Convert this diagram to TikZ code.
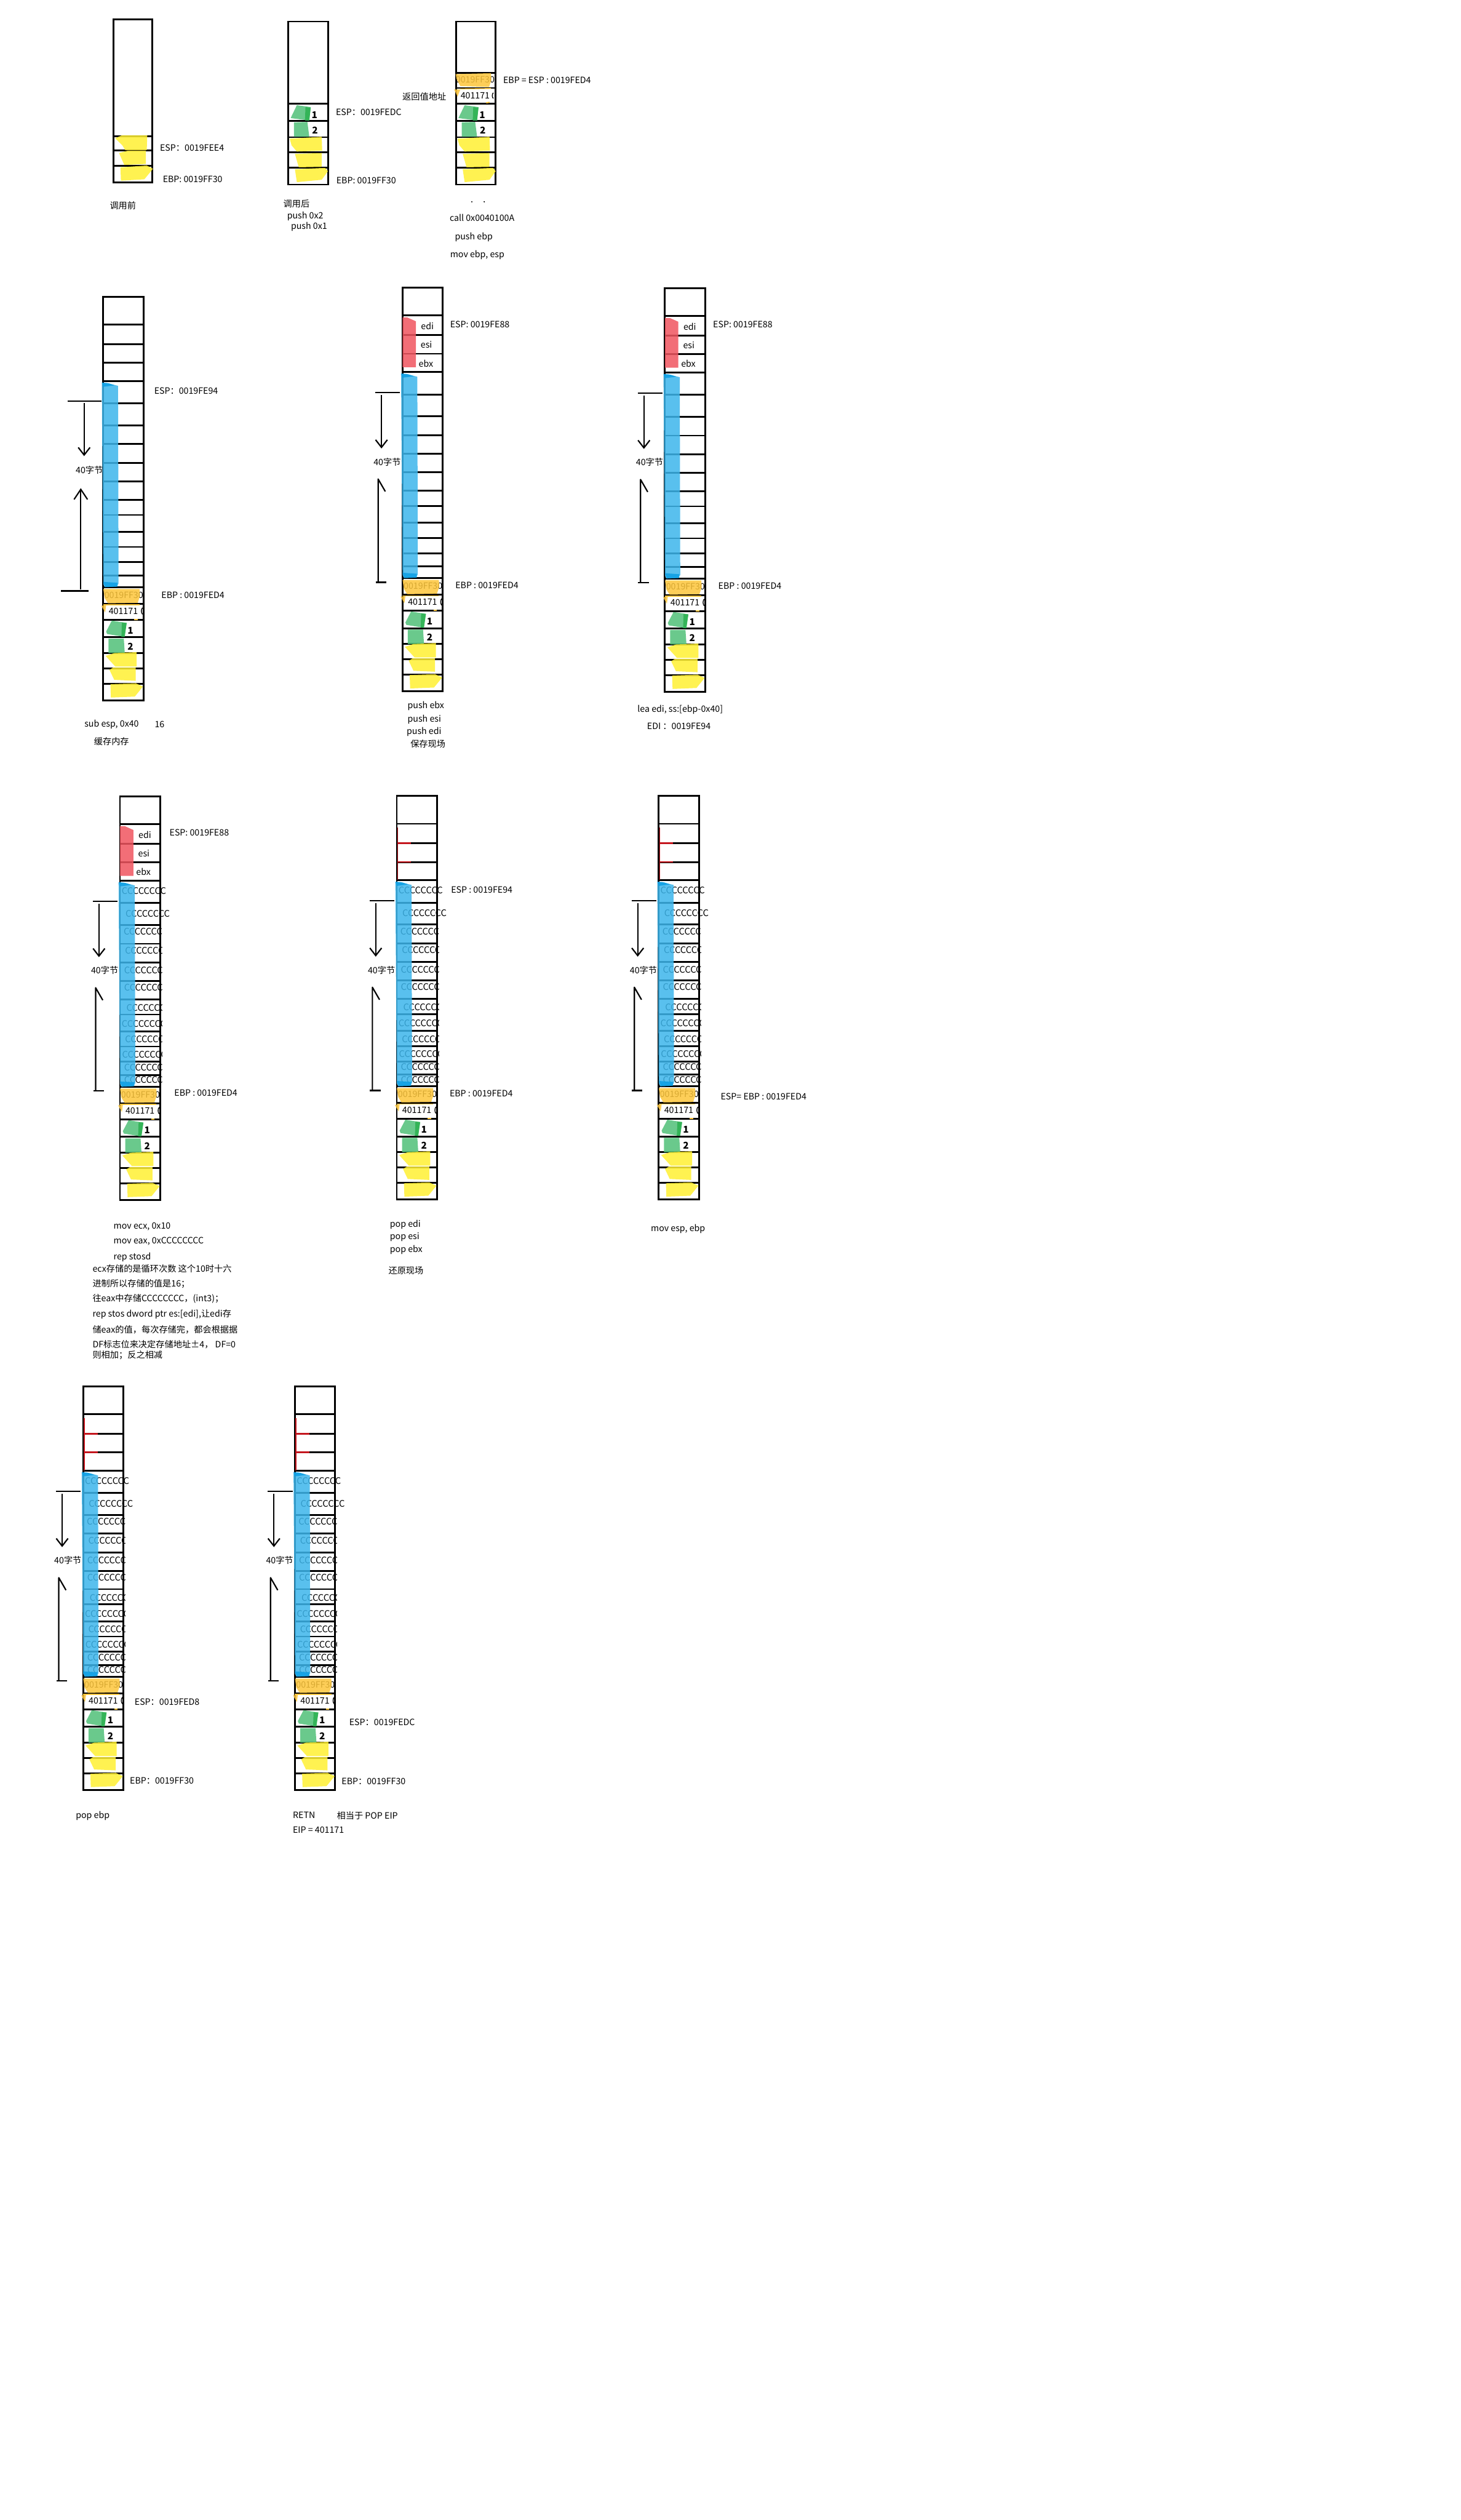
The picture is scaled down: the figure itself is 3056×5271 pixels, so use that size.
\documentclass[tikz,border=0pt]{standalone}
\usepackage{fontspec}
\setmainfont{Noto Sans CJK SC}
\usetikzlibrary{arrows.meta}
\definecolor{hlyel}{HTML}{FFF033}
\definecolor{hlorg}{HTML}{FDC63B}
\definecolor{hlgrn}{HTML}{50C078}
\definecolor{hlgrnd}{HTML}{2BB150}
\definecolor{hlblu}{HTML}{3DB6EC}
\definecolor{hlblud}{HTML}{0C9FE4}
\definecolor{hlred}{HTML}{F05560}
\definecolor{hlredd}{HTML}{C4161E}
\tikzset{
  cellln/.style={line width=1.05pt},
  hlfill/.style={draw=none,fill opacity=0.85},
  lbl/.style={font=\fontsize{5.2}{6.2}\selectfont,inner sep=0pt,anchor=west},
  ctr/.style={font=\fontsize{5.2}{6.2}\selectfont,inner sep=0pt},
  numb/.style={font=\fontsize{5.6}{6.2}\selectfont\bfseries,inner sep=0pt},
  ccc/.style={font=\fontsize{5.4}{6.2}\selectfont,inner sep=0pt,anchor=west},
  brk/.style={line width=0.8pt},
  dnarr/.style={brk,-{Straight Barb[length=4.5pt,width=7pt]}},
  upfull/.style={brk,-{Straight Barb[length=6pt,width=8pt]}},
  pics/tallstack/.style={code={
    \draw[cellln] (0,0) rectangle (84,844);
    \foreach \yy in {58,99,138,176,223,269,308,347,386,424,456,491,523,555,583,607,642,675,712,745,777,809}
      \draw[cellln] (0,\yy) -- (84,\yy);
    \node[ctr] (-ff30) at (43,624) {0019FF30};
    \fill[hlorg,hlfill] (0,611) -- (76,611) -- (77,625) -- (72,640) -- (10,641) -- (3,630) -- cycle;
    \node[ctr] (-ret) at (42,657) {401171};
    \draw[line width=0.5pt] (82,650) .. controls (79,654) and (79,660) .. (82,664);
    \fill[hlorg,hlfill] (-4,646) -- (6,645) -- (4,660) -- cycle;
    \draw[hlorg,line width=0.5pt] (0,644) -- (76,644);
    \draw[hlorg,line width=0.7pt] (65,675) -- (72,675);
    \fill[hlgrn,hlfill] (6,700) -- (18,677) -- (49,682) -- (44,711) -- (8,705) -- cycle;
    \fill[hlgrnd,hlfill] (39,681) -- (49,682) -- (45,711) -- (38,711) -- cycle;
    \fill[hlgrn,hlfill] (11,715) -- (43,715) -- (45,745) -- (11,745) -- cycle;
    \fill[hlyel,hlfill] (5,751) -- (23,745) -- (70,743) -- (70,773) -- (25,773) -- cycle;
    \fill[hlyel,hlfill] (13,780) -- (21,775) -- (68,775) -- (68,803) -- (23,801) -- cycle;
    \fill[hlyel,hlfill] (15,810) -- (68,808) -- (83,815) -- (66,836) -- (16,838) -- cycle;
    \node[numb] (-n1) at (57,698) {1};
    \node[numb] (-n2) at (57,731) {2};
  }},
  pics/bluefill/.style={code={
    \fill[hlblu,hlfill] (-3,180) -- (8,180) -- (31,186) -- (32,600) -- (27,606) -- (3,607) -- (0,601) -- cycle;
    \fill[hlblud,hlfill] (-3,179) -- (12,181) -- (24,185) -- (0,188) -- cycle;
    \fill[hlblud,hlfill] (0,596) -- (30,598) -- (30,606) -- (4,607) -- cycle;
  }},
  pics/redregs/.style={code={
    \fill[hlred,hlfill] (0,62) -- (10,62) -- (28,70) -- (28,166) -- (0,166) -- cycle;
    \node[ctr] (-edi) at (52,80) {edi};
    \node[ctr] (-esi) at (50,119) {esi};
    \node[ctr] (-ebx) at (49,158) {ebx};
  }},
  pics/redgone/.style={code={
    \draw[hlredd,line width=0.6pt] (2,66) -- (2,175);
    \draw[hlredd,line width=1pt] (2,99) -- (30,99) (2,138) -- (30,138);
  }},
  pics/ccrows/.style={code={
    \foreach \dx/\yy [count=\k] in {3/197,11/245,7/283,10/322,8/363,8/399,13/442,3/475,10/508,4/540,8/567,8/593}{
      \begin{scope}
        \ifnum\k>2 \clip (-10,\yy-22) rectangle (88,\yy+22); \fi
        \node[ccc] (-c\k) at (\dx,\yy) {CCCCCCCC};
      \end{scope}
    }
  }},
  pics/bytebrk/.style={code={
    \coordinate (-tl) at (-57,219); \coordinate (-tr) at (-5,219);
    \coordinate (-bl) at (-56,616); \coordinate (-br) at (-34,616);
    \coordinate (-dt) at (-44,224); \coordinate (-db) at (-44,336);
    \coordinate (-ub) at (-51,615); \coordinate (-ut) at (-51,400);
    \draw[brk] (-tl) -- (-tr);
    \draw[brk] (-bl) -- (-br);
    \draw[dnarr] (-dt) -- (-db);
    \draw[brk,line join=round] (-ub) -- (-ut) -- ++(15,26);
    \node[ctr] (-sz) at (-32,364) {40字节};
  }},
  pics/shortcells/.style={code={
    \fill[hlgrn,hlfill] (5,247) -- (18,220) -- (47,224) -- (44,252) -- cycle;
    \fill[hlgrnd,hlfill] (36,224) -- (47,225) -- (44,252) -- (35,252) -- cycle;
    \fill[hlgrn,hlfill] (12,256) -- (40,255) -- (44,286) -- (12,286) -- cycle;
    \fill[hlyel,hlfill] (3,290) -- (70,286) -- (71,315) -- (18,317) -- (7,304) -- cycle;
    \fill[hlyel,hlfill] (14,322) -- (70,320) -- (70,349) -- (22,350) -- cycle;
    \fill[hlyel,hlfill] (14,354) -- (77,351) -- (83,358) -- (70,376) -- (18,381) -- cycle;
    \node[numb] (-n1) at (55,240) {1};
    \node[numb] (-n2) at (56,273) {2};
  }}
}

\begin{document}
\begin{tikzpicture}[x=0.01cm,y=-0.01cm]
\useasboundingbox (0,0) rectangle (3056,5271);
\fill[white] (0,0) rectangle (3056,5271);

% row 1: before the call, after the pushes, after call/push ebp
\draw[cellln] (237,41) rectangle (319,381);
\foreach \yy in {285,315,347} \draw[cellln] (237,\yy) -- (319,\yy);
\fill[hlyel,hlfill] (241,289) -- (255,283) -- (308,283) -- (307,314) -- (262,314) -- (256,304) -- cycle;
\fill[hlyel,hlfill] (249,320) -- (268,315) -- (305,315) -- (305,343) -- (260,345) -- cycle;
\fill[hlyel,hlfill] (252,350) -- (307,346) -- (320,353) -- (302,375) -- (253,378) -- cycle;
\node[lbl] (espA) at (334,309) {ESP：0019FEE4};
\node[lbl] (ebpA) at (340,375) {EBP: 0019FF30};
\node[lbl] (capA) at (229,430) {调用前};

\draw[cellln] (603,45) rectangle (686,386);
\foreach \yy in {217,253,287,318,351} \draw[cellln] (603,\yy) -- (686,\yy);
\pic (B) at (603,0) {shortcells};
\node[lbl] (espB) at (702,234) {ESP：0019FEDC};
\node[lbl] (ebpB) at (703,378) {EBP: 0019FF30};
\node[lbl] (capB) at (592,426) {调用后};
\node[lbl] (pushB2) at (600,452) {push 0x2};
\node[lbl] (pushB1) at (608,474) {push 0x1};

\draw[cellln] (954,45) rectangle (1036,386);
\foreach \yy in {152,184,217,253,287,318,351} \draw[cellln] (954,\yy) -- (1036,\yy);
\node[ctr] (ff30C) at (994,167) {0019FF30};
\fill[hlorg,hlfill] (953,155) -- (1027,153) -- (1028,167) -- (1023,182) -- (963,180) -- (955,165) -- cycle;
\node[ctr] (retC) at (994,200) {401171};
\draw[line width=0.5pt] (1032,194) .. controls (1029,197) and (1029,203) .. (1032,206);
\fill[hlorg,hlfill] (950,187) -- (963,187) -- (957,202) -- cycle;
\draw[hlorg,line width=0.5pt] (963,186) -- (1027,185);
\draw[hlorg,line width=0.7pt] (1017,215) -- (1024,214);
\pic (C) at (954,0) {shortcells};
\node[lbl] (ebpC) at (1052,168) {EBP = ESP : 0019FED4};
\node[lbl,anchor=east] (raC) at (934,202) {返回值地址};
\fill (987,422) circle (1.5) (1013,422) circle (1.5);
\node[lbl] (callC) at (940,456) {call 0x0040100A};
\node[lbl] (pushC) at (951,496) {push ebp};
\node[lbl] (movC) at (941,533) {mov ebp, esp};

% row 2: sub esp / push regs / lea edi
\pic (D) at (216,621) {tallstack};
\pic (Db) at (216,621) {bluefill};
\coordinate (Dtl) at (141,839); \coordinate (Dtr) at (212,839);
\coordinate (Dbl) at (128,1236); \coordinate (Dbr) at (185,1236);
\coordinate (Ddt) at (176,843); \coordinate (Ddb) at (176,954);
\coordinate (Dub) at (169,1233); \coordinate (Dut) at (169,1021);
\draw[brk] (Dtl) -- (Dtr);
\draw[brk] (Dbl) -- (Dbr);
\draw[dnarr] (Ddt) -- (Ddb);
\draw[upfull] (Dub) -- (Dut);
\node[ctr] (szD) at (187,983) {40字节};
\node[lbl] (espD) at (322,818) {ESP：0019FE94};
\node[lbl] (ebpD) at (337,1245) {EBP : 0019FED4};
\node[lbl] (subD) at (176,1515) {sub esp, 0x40};
\node[lbl] (sixD) at (323,1515) {16};
\node[lbl] (capD) at (196,1551) {缓存内存};

\pic (E) at (842,602) {tallstack};
\pic (Eb) at (842,602) {bluefill};
\pic (Er) at (842,602) {redregs};
\pic (Ek) at (842,602) {bytebrk};
\node[lbl] (espE) at (941,678) {ESP: 0019FE88};
\node[lbl] (ebpE) at (952,1224) {EBP : 0019FED4};
\node[lbl] (pushE1) at (852,1477) {push ebx};
\node[lbl] (pushE2) at (852,1505) {push esi};
\node[lbl] (pushE3) at (850,1531) {push edi};
\node[lbl] (capE) at (858,1556) {保存现场};

\pic (F) at (1391,603) {tallstack};
\pic (Fb) at (1391,603) {bluefill};
\pic (Fr) at (1391,603) {redregs};
\pic (Fk) at (1391,603) {bytebrk};
\node[lbl] (espF) at (1491,679) {ESP: 0019FE88};
\node[lbl] (ebpF) at (1502,1225) {EBP : 0019FED4};
\node[lbl] (leaF) at (1333,1484) {lea edi, ss:[ebp-0x40]};
\node[lbl] (ediF) at (1353,1519) {EDI ：0019FE94};

% row 3: rep stosd / pop regs / mov esp, ebp
\pic (Gc) at (251,1666) {ccrows};
\pic (G) at (251,1666) {tallstack};
\pic (Gb) at (251,1666) {bluefill};
\pic (Gr) at (251,1666) {redregs};
\pic (Gk) at (251,1666) {bytebrk};
\node[lbl] (espG) at (354,1741) {ESP: 0019FE88};
\node[lbl] (ebpG) at (364,2286) {EBP : 0019FED4};
\node[lbl] (movG1) at (237,2565) {mov ecx, 0x10};
\node[lbl] (movG2) at (237,2596) {mov eax, 0xCCCCCCCC};
\node[lbl] (repG) at (237,2630) {rep stosd};
\node[lbl] (noteG1) at (193,2653) {ecx存储的是循环次数 这个10时十六};
\node[lbl] (noteG2) at (193,2685) {进制所以存储的值是16；};
\node[lbl] (noteG3) at (193,2717) {往eax中存储CCCCCCCC，(int3)；};
\node[lbl] (noteG4) at (193,2749) {rep stos dword ptr es:[edi],让edi存};
\node[lbl] (noteG5) at (193,2781) {储eax的值，每次存储完，都会根据据};
\node[lbl] (noteG6) at (193,2812) {DF标志位来决定存储地址±4， DF=0};
\node[lbl] (noteG7) at (193,2835) {则相加；反之相减};

\pic (Hc) at (830,1665) {ccrows};
\pic (H) at (830,1665) {tallstack};
\pic (Hb) at (830,1665) {bluefill};
\pic (Hr) at (830,1665) {redgone};
\pic (Hk) at (830,1665) {bytebrk};
\node[lbl] (espH) at (943,1861) {ESP : 0019FE94};
\node[lbl] (ebpH) at (940,2287) {EBP : 0019FED4};
\node[lbl] (popH1) at (815,2561) {pop edi};
\node[lbl] (popH2) at (815,2587) {pop esi};
\node[lbl] (popH3) at (815,2614) {pop ebx};
\node[lbl] (capH) at (812,2658) {还原现场};

\pic (Ic) at (1378,1665) {ccrows};
\pic (I) at (1378,1665) {tallstack};
\pic (Ib) at (1378,1665) {bluefill};
\pic (Ir) at (1378,1665) {redgone};
\pic (Ik) at (1378,1665) {bytebrk};
\node[lbl] (espI) at (1507,2294) {ESP= EBP : 0019FED4};
\node[lbl] (movI) at (1361,2571) {mov esp, ebp};

% row 4: pop ebp / retn
\pic (Jc) at (174,2900) {ccrows};
\pic (J) at (174,2900) {tallstack};
\pic (Jb) at (174,2900) {bluefill};
\pic (Jr) at (174,2900) {redgone};
\pic (Jk) at (174,2900) {bytebrk};
\node[lbl] (espJ) at (281,3560) {ESP：0019FED8};
\node[lbl] (ebpJ) at (271,3725) {EBP：0019FF30};
\node[lbl] (popJ) at (158,3798) {pop ebp};

\pic (Kc) at (617,2900) {ccrows};
\pic (K) at (617,2900) {tallstack};
\pic (Kb) at (617,2900) {bluefill};
\pic (Kr) at (617,2900) {redgone};
\pic (Kk) at (617,2900) {bytebrk};
\node[lbl] (espK) at (730,3602) {ESP：0019FEDC};
\node[lbl] (ebpK) at (714,3726) {EBP：0019FF30};
\node[lbl] (retK) at (612,3797) {RETN};
\node[lbl] (eqK) at (704,3797) {相当于 POP EIP};
\node[lbl] (eipK) at (612,3828) {EIP = 401171};
\end{tikzpicture}
\end{document}
